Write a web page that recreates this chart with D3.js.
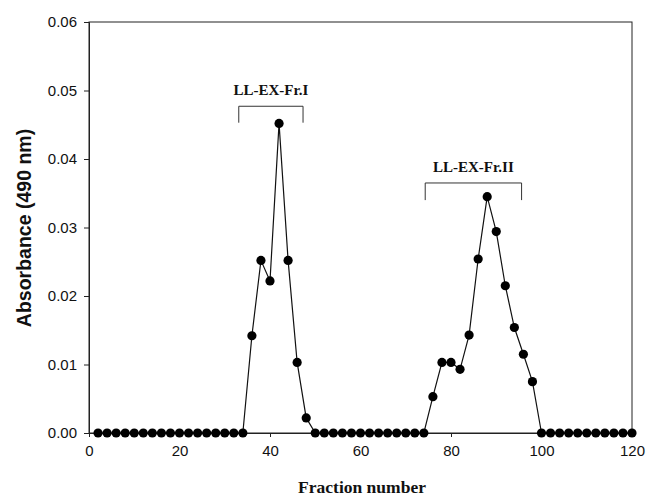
<!DOCTYPE html>
<html>
<head>
<meta charset="utf-8">
<script src="https://cdn.jsdelivr.net/npm/d3@7"></script>
<style>
  body { margin: 0; background: #fff; }
  svg { display: block; }
</style>
</head>
<body>
<div id="chart"></div>
<script>
// fraction numbers (every second fraction collected)
var fractions = [2, 4, 6, 8, 10, 12, 14, 16, 18, 20, 22, 24, 26, 28, 30, 32, 34,
  36, 38, 40, 42, 44, 46, 48,
  50, 52, 54, 56, 58, 60, 62, 64, 66, 68, 70, 72, 74,
  76, 78, 80, 82, 84, 86, 88, 90, 92, 94, 96, 98,
  100, 102, 104, 106, 108, 110, 112, 114, 116, 118, 120];

// absorbance at 490 nm
var absorbance = [0, 0, 0, 0, 0, 0, 0, 0, 0, 0, 0, 0, 0, 0, 0, 0, 0,
  0.0142, 0.0252, 0.0222, 0.0452, 0.0252, 0.0103, 0.0022,
  0, 0, 0, 0, 0, 0, 0, 0, 0, 0, 0, 0, 0,
  0.0053, 0.0103, 0.0103, 0.0093, 0.0143, 0.0254, 0.0345, 0.0294, 0.0215, 0.0154, 0.0115, 0.0075,
  0, 0, 0, 0, 0, 0, 0, 0, 0, 0, 0];

var xTicks = [0, 20, 40, 60, 80, 100, 120];
var yTicks = [0, 0.01, 0.02, 0.03, 0.04, 0.05, 0.06];

// pooled fractions: name, start, end, bracket top, leg bottom
var poolNames = ["LL-EX-Fr.I", "LL-EX-Fr.II"];
var poolStart = [33.1, 74.3];
var poolEnd = [47.3, 95.6];
var poolTop = [0.0477, 0.0365];
var poolLeg = [0.0453, 0.0340];

var data = fractions.map(function (f, i) { return { fraction: f, value: absorbance[i] }; });

var width = 655, height = 499;
var margin = { top: 22, right: 23, bottom: 66, left: 89 };

var svg = d3.select("#chart").append("svg")
  .attr("width", width)
  .attr("height", height);

var x = d3.scaleLinear()
  .domain([0, 120])
  .range([margin.left, width - margin.right]);

var y = d3.scaleLinear()
  .domain([0, 0.06])
  .range([height - margin.bottom, margin.top]);

// frame
svg.append("rect")
  .attr("x", x(0))
  .attr("y", y(0.06))
  .attr("width", x(120) - x(0))
  .attr("height", y(0) - y(0.06))
  .attr("fill", "none")
  .attr("stroke", "#222")
  .attr("stroke-width", 1);

var xAxis = d3.axisBottom(x).tickValues(xTicks).tickSize(4).tickFormat(d3.format("d"));
var yAxis = d3.axisLeft(y).tickValues(yTicks).tickSize(5).tickFormat(d3.format(".2f"));

var gx = svg.append("g")
  .attr("class", "x axis")
  .attr("transform", "translate(0," + y(0) + ")")
  .call(xAxis);

var gy = svg.append("g")
  .attr("class", "y axis")
  .attr("transform", "translate(" + x(0) + ",0)")
  .call(yAxis);

svg.selectAll(".axis .domain").attr("stroke", "#222");
svg.selectAll(".axis .tick line").attr("stroke", "#222");
svg.selectAll(".axis text")
  .attr("font-family", "Liberation Sans, Arial, sans-serif")
  .attr("font-size", 15)
  .attr("fill", "#111");
gx.selectAll("text").attr("dy", "1.05em");
gy.selectAll("text").attr("x", -12);

// line
var line = d3.line()
  .x(function (d) { return x(d.fraction); })
  .y(function (d) { return y(d.value); });

svg.append("path")
  .datum(data)
  .attr("fill", "none")
  .attr("stroke", "#111")
  .attr("stroke-width", 1.2)
  .attr("d", line);

svg.selectAll(".dot")
  .data(data)
  .enter()
  .append("circle")
  .attr("class", "dot")
  .attr("cx", function (d) { return x(d.fraction); })
  .attr("cy", function (d) { return y(d.value); })
  .attr("r", 4.6)
  .attr("fill", "#000");

// brackets for pooled fractions
poolNames.forEach(function (name, i) {
  var x0 = x(poolStart[i]), x1 = x(poolEnd[i]);
  var yt = y(poolTop[i]), yl = y(poolLeg[i]);
  svg.append("path")
    .attr("d", "M" + x0 + "," + yl + "V" + yt + "H" + x1 + "V" + yl)
    .attr("fill", "none")
    .attr("stroke", "#333")
    .attr("stroke-width", 1);
  svg.append("text")
    .attr("x", (x0 + x1) / 2)
    .attr("y", yt - 11)
    .attr("text-anchor", "middle")
    .attr("font-family", "Liberation Serif, Times New Roman, serif")
    .attr("font-weight", "bold")
    .attr("font-size", 15)
    .attr("fill", "#111")
    .text(name);
});

// axis titles
svg.append("text")
  .attr("x", 362)
  .attr("y", 493)
  .attr("text-anchor", "middle")
  .attr("font-family", "Liberation Serif, Times New Roman, serif")
  .attr("font-weight", "bold")
  .attr("font-size", 17.5)
  .attr("fill", "#111")
  .text("Fraction number");

svg.append("text")
  .attr("transform", "translate(31,228) rotate(-90)")
  .attr("text-anchor", "middle")
  .attr("font-family", "Liberation Sans, Arial, sans-serif")
  .attr("font-weight", "bold")
  .attr("font-size", 19.5)
  .attr("fill", "#111")
  .text("Absorbance (490 nm)");
</script>
</body>
</html>
